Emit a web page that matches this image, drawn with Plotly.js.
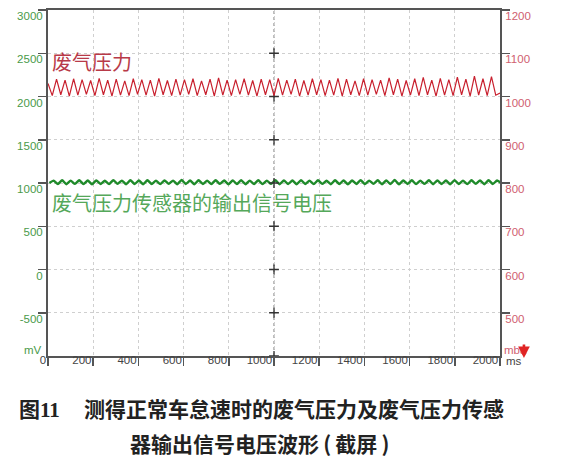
<!DOCTYPE html>
<html>
<head>
<meta charset="utf-8">
<script src="https://cdn.plot.ly/plotly-3.0.1.min.js"></script>
<style>
  html, body { margin: 0; padding: 0; background: #fff; }
  #chart { width: 563px; height: 465px; }
</style>
</head>
<body>
<div id="chart"></div>
<script>
// Oscilloscope capture: exhaust pressure (mbar, right scale) and
// the pressure sensor output voltage (mV, left scale) at idle.
var SAMPLE_START_MS = 0;
var SAMPLE_STEP_MS = 18.868;

// Exhaust pressure, alternating troughs / peaks (mbar)
var pressureMbar = [
  1030, 1002, 1040, 1004, 1038, 1001, 1041, 1003, 1039, 1005,
  1037, 1002, 1042, 1004, 1038, 1001, 1040, 1003, 1036, 1002,
  1041, 1005, 1039, 1003, 1038, 1001, 1042, 1004, 1037, 1002,
  1040, 1003, 1039, 1005, 1041, 1002, 1036, 1004, 1040, 1001,
  1043, 1003, 1038, 1002, 1039, 1005, 1041, 1003, 1037, 1001,
  1040, 1004, 1039, 1002, 1042, 1003, 1038, 1005, 1040, 1001,
  1037, 1003, 1041, 1004, 1039, 1002, 1038, 1003, 1042, 1001,
  1040, 1004, 1036, 1002, 1041, 1003, 1039, 1005, 1038, 1002,
  1043, 1004, 1040, 1001, 1037, 1003, 1041, 1002, 1044, 1004,
  1038, 1001, 1042, 1003, 1039, 1002, 1045, 1004, 1040, 1001,
  1047, 1003, 1041, 1002, 1046, 1003, 1008
];

// Sensor output voltage (mV)
var sensorMv = [
  1000, 1028, 988, 1031, 986, 1027, 990, 1032, 987, 1029,
  985, 1030, 989, 1026, 987, 1033, 990, 1028, 986, 1031,
  988, 1029, 985, 1032, 989, 1027, 987, 1030, 990, 1028,
  986, 1034, 988, 1029, 985, 1031, 989, 1027, 987, 1032,
  990, 1029, 986, 1030, 988, 1033, 985, 1028, 989, 1031,
  987, 1027, 990, 1032, 986, 1030, 988, 1029, 985, 1033,
  989, 1028, 987, 1031, 990, 1026, 986, 1032, 988, 1030,
  985, 1029, 989, 1033, 987, 1028, 990, 1031, 986, 1030,
  988, 1034, 985, 1029, 989, 1031, 987, 1027, 990, 1032,
  986, 1030, 988, 1029, 985, 1033, 989, 1028, 987, 1031,
  990, 1030, 986, 1032, 988, 1029, 995
];

// Axis ticks
var timeTicks = [0, 200, 400, 600, 800, 1000, 1200, 1400, 1600, 1800, 2000];
var mvTicks = [3000, 2500, 2000, 1500, 1000, 500, 0, -500];
var mbarTicks = [1200, 1100, 1000, 900, 800, 700, 600, 500];

// Centre crosshair of the scope screen
var CENTER_MS = 1000;
var crossLevelsMv = [2500, 2000, 1500, 1000, 500, 0, -500, -1000];

var pressureLabel = '废气压力';
var sensorLabel = '废气压力传感器的输出信号电压';
var captionNo = '图<span style="font-family:\'Liberation Serif\'">11</span>';
var captionLine1 = '测得正常车怠速时的废气压力及废气压力传感';
var captionLine2 = '器输出信号电压波形\u2009(\u2009截屏\u2009)';

var CJK = '"Noto Sans CJK SC", "Noto Sans", sans-serif';
var NUM = '"Liberation Sans Narrow", "Liberation Sans", Arial, sans-serif';

var traces = [
  {
    type: 'scatter', mode: 'lines',
    x0: SAMPLE_START_MS, dx: SAMPLE_STEP_MS, y: pressureMbar,
    yaxis: 'y2',
    line: { color: '#c8202e', width: 1.2 },
    hoverinfo: 'skip'
  },
  {
    type: 'scatter', mode: 'lines',
    x0: SAMPLE_START_MS + 6, dx: SAMPLE_STEP_MS, y: sensorMv,
    yaxis: 'y',
    line: { color: '#1f8a2a', width: 2.4, shape: 'spline', smoothing: 0.5 },
    hoverinfo: 'skip'
  },
  {
    type: 'scatter', mode: 'markers',
    x: crossLevelsMv.map(function () { return CENTER_MS; }),
    y: crossLevelsMv,
    yaxis: 'y',
    marker: { symbol: 'cross-thin', size: 7, line: { color: '#333', width: 1.3 } },
    hoverinfo: 'skip'
  }
];

var layout = {
  width: 563, height: 465,
  margin: { l: 48, r: 63, t: 10, b: 109 },
  paper_bgcolor: '#ffffff',
  plot_bgcolor: '#ffffff',
  showlegend: false,
  xaxis: {
    range: [0, 2000],
    tickvals: timeTicks,
    ticktext: timeTicks.map(String),
    ticks: 'outside', ticklen: 8, tickwidth: 1.5, tickcolor: '#555',
    ticklabelposition: 'outside left',
    ticklabelstandoff: -8,
    tickfont: { family: NUM, size: 11.5, color: '#444' },
    showline: true, linecolor: '#555', linewidth: 2, mirror: true,
    showgrid: true, gridcolor: '#cfcfcf', griddash: 'dot', gridwidth: 1,
    zeroline: false, fixedrange: true
  },
  yaxis: {
    range: [-1000, 3000],
    tickvals: mvTicks,
    ticktext: mvTicks.map(String),
    ticks: 'outside', ticklen: 8, tickwidth: 1.5, tickcolor: '#555',
    ticklabelshift: 6,
    ticklabelstandoff: -7,
    tickfont: { family: NUM, size: 11.5, color: '#4a9a4a' },
    showline: true, linecolor: '#555', linewidth: 2,
    showgrid: true, gridcolor: '#cfcfcf', griddash: 'dot', gridwidth: 1,
    zeroline: false, fixedrange: true
  },
  yaxis2: {
    range: [400, 1200],
    overlaying: 'y', side: 'right',
    tickvals: mbarTicks,
    ticktext: mbarTicks.map(String),
    ticks: 'outside', ticklen: 8, tickwidth: 1.5, tickcolor: '#555',
    ticklabelshift: 6,
    ticklabelstandoff: -7,
    tickfont: { family: NUM, size: 11.5, color: '#d06070' },
    showline: true, linecolor: '#555', linewidth: 2,
    showgrid: false, zeroline: false, fixedrange: true
  },
  shapes: [
    {
      type: 'line', xref: 'x', yref: 'paper',
      x0: CENTER_MS, x1: CENTER_MS, y0: 0, y1: 1,
      line: { color: '#9a9a9a', width: 1.3, dash: 'dot' },
      layer: 'below'
    }
  ],
  annotations: [
    {
      text: pressureLabel, xref: 'x', yref: 'y', x: 10, y: 2400,
      xanchor: 'left', yanchor: 'middle', showarrow: false,
      font: { family: CJK, size: 20, color: '#b83a48' }
    },
    {
      text: sensorLabel, xref: 'x', yref: 'y', x: 10, y: 780,
      xanchor: 'left', yanchor: 'middle', showarrow: false,
      font: { family: CJK, size: 20, color: '#55a85a' }
    },
    {
      text: 'mV', xref: 'paper', yref: 'y', x: -0.008, y: -930,
      xanchor: 'right', yanchor: 'middle', showarrow: false,
      font: { family: NUM, size: 11.5, color: '#4a9a4a' }
    },
    {
      text: 'mba', xref: 'paper', yref: 'y', x: 1.004, y: -930,
      xanchor: 'left', yanchor: 'middle', showarrow: false,
      font: { family: NUM, size: 11.5, color: '#d06070' }
    },
    {
      text: '', xref: 'paper', yref: 'paper', x: 1.053, y: -0.006,
      showarrow: true, ax: 0, ay: -15, arrowhead: 2, arrowsize: 0.9,
      arrowwidth: 2.6, arrowcolor: '#e02424'
    },
    {
      text: 'ms', xref: 'paper', yref: 'paper', x: 1.009, y: -0.015,
      xanchor: 'left', yanchor: 'middle', showarrow: false,
      font: { family: NUM, size: 11.5, color: '#444' }
    },
    {
      text: captionNo, xref: 'paper', yref: 'paper', x: -0.069, y: -0.150,
      xanchor: 'left', yanchor: 'middle', showarrow: false,
      font: { family: CJK, size: 21, color: '#222', weight: 700 }
    },
    {
      text: captionLine1, xref: 'paper', yref: 'paper', x: 0.075, y: -0.150,
      xanchor: 'left', yanchor: 'middle', showarrow: false,
      font: { family: CJK, size: 21, color: '#222', weight: 700 }
    },
    {
      text: captionLine2, xref: 'paper', yref: 'paper', x: 0.177, y: -0.252,
      xanchor: 'left', yanchor: 'middle', showarrow: false,
      font: { family: CJK, size: 21, color: '#222', weight: 700 }
    }
  ]
};

Plotly.newPlot('chart', traces, layout, { staticPlot: true, displayModeBar: false });
</script>
</body>
</html>
